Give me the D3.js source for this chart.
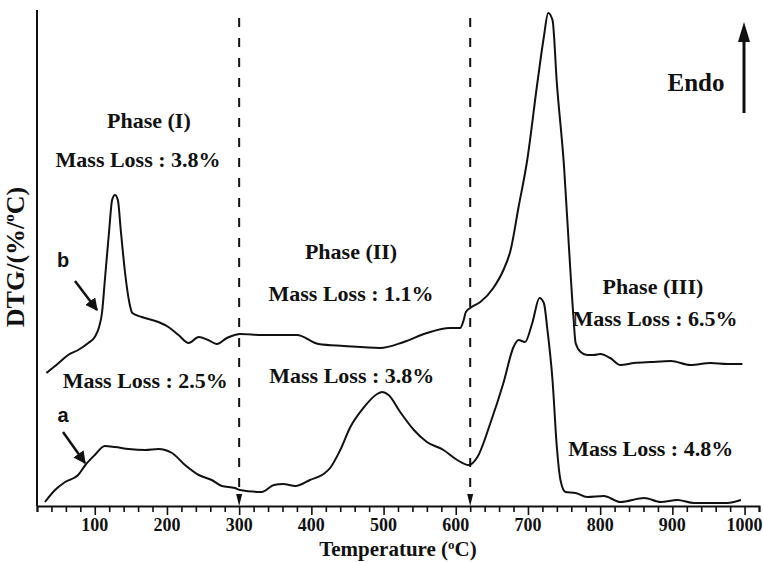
<!DOCTYPE html>
<html>
<head>
<meta charset="utf-8">
<script src="https://cdn.jsdelivr.net/npm/d3@7"></script>
<style>
  body { margin: 0; background: #fff; }
  svg { display: block; }
  .serif { font-family: "Liberation Serif", "Times New Roman", serif; font-weight: bold; fill: #111; }
  .sans { font-family: "Liberation Sans", Arial, sans-serif; font-weight: bold; fill: #111; }
</style>
</head>
<body>
<div id="chart"></div>
<script>
const width = 763;
const height = 562;

// temperatures (°C) and DTG readings (arbitrary units) for curve a (lower) and b (upper)
const tempA = [31, 45, 59, 77, 87, 100, 114, 128, 147, 170, 188, 207, 225, 244, 262, 276, 294, 301, 331, 348, 361, 378, 398, 417, 426, 440, 454, 472, 491, 498, 507, 523, 542, 560, 583, 602, 618, 630, 648, 666, 680, 687, 696, 706, 716, 722, 727, 734, 740, 745, 752, 766, 782, 805, 828, 861, 884, 907, 930, 953, 976, 995];
const dtgA = [4, 16, 24, 31, 41, 51, 60, 59, 57, 56, 57, 53, 41, 31, 26, 20, 18, 16, 14, 21, 22, 20, 26, 32, 38, 56, 79, 98, 112, 114, 111, 94, 76, 64, 56, 46, 41, 49, 83, 123, 159, 166, 164, 183, 208, 203, 176, 126, 59, 26, 14, 13, 9, 10, 4, 8, 4, 6, 3, 3, 3, 6];

const tempB = [33, 50, 63, 77, 91, 100, 106, 110, 114, 120, 124, 128, 132, 136, 142, 148, 152, 165, 188, 202, 216, 230, 244, 257, 269, 283, 294, 301, 333, 380, 410, 445, 495, 528, 560, 592, 606, 611, 614, 622, 634, 652, 666, 676, 687, 699, 713, 722, 728, 734, 740, 750, 757, 763, 766, 773, 782, 791, 800, 814, 828, 847, 870, 898, 925, 953, 976, 997];
const dtgB = [133, 143, 151, 156, 163, 169, 179, 193, 226, 276, 306, 311, 306, 276, 233, 203, 193, 189, 184, 179, 171, 163, 169, 166, 162, 168, 171, 172, 171, 171, 162, 160, 158, 164, 173, 178, 178, 186, 194, 199, 204, 218, 236, 256, 299, 346, 423, 469, 493, 486, 423, 339, 256, 189, 163, 154, 151, 151, 152, 148, 141, 143, 144, 145, 141, 143, 142, 142];

const phaseBounds = [300, 620];
const tickLabels = [100, 200, 300, 400, 500, 600, 700, 800, 900, 1000];

const annotations = [
  { text: "Phase (I)", t: 175, v: 378 },
  { text: "Mass Loss : 3.8%", t: 160, v: 339 },
  { text: "Mass Loss : 2.5%", t: 170, v: 118 },
  { text: "Phase (II)", t: 455, v: 247 },
  { text: "Mass Loss : 1.1%", t: 455, v: 205 },
  { text: "Mass Loss : 3.8%", t: 456, v: 123 },
  { text: "Phase (III)", t: 873, v: 212 },
  { text: "Mass Loss : 6.5%", t: 876, v: 180 },
  { text: "Mass Loss : 4.8%", t: 870, v: 50 },
];

const svg = d3
  .select("#chart")
  .append("svg")
  .attr("width", width)
  .attr("height", height);

const x = d3.scaleLinear().domain([20, 1020]).range([37, 759]);
const y = d3.scaleLinear().domain([0, 496]).range([506, 10]);

const defs = svg.append("defs");
defs
  .append("marker")
  .attr("id", "head")
  .attr("viewBox", "0 0 10 10")
  .attr("refX", 9)
  .attr("refY", 5)
  .attr("markerWidth", 5)
  .attr("markerHeight", 5)
  .attr("markerUnits", "strokeWidth")
  .attr("orient", "auto")
  .append("path")
  .attr("d", "M0,0 L10,5 L0,10 Z")
  .attr("fill", "#111");

// x axis: ticks every 20, long ones every 100
const xAxis = d3
  .axisBottom(x)
  .tickValues(d3.range(20, 1021, 20))
  .tickSize(6)
  .tickFormat("");
const gx = svg
  .append("g")
  .attr("transform", `translate(0,${y(0)})`)
  .call(xAxis);
gx.select(".domain").attr("stroke-width", 2).attr("stroke", "#111");
gx.selectAll(".tick line")
  .attr("stroke", "#111")
  .attr("stroke-width", 1.6)
  .attr("y2", (d) => (d % 100 === 0 ? 9 : 6));

svg
  .append("g")
  .selectAll("text")
  .data(tickLabels)
  .join("text")
  .attr("class", "serif")
  .attr("x", (d) => x(d))
  .attr("y", 531)
  .attr("text-anchor", "middle")
  .attr("font-size", 18)
  .text((d) => d);

// y axis line only
svg
  .append("line")
  .attr("x1", x(20))
  .attr("x2", x(20))
  .attr("y1", y(496))
  .attr("y2", y(0))
  .attr("stroke", "#111")
  .attr("stroke-width", 2);

// axis titles
const xt = svg
  .append("text")
  .attr("class", "serif")
  .attr("x", 398)
  .attr("y", 556)
  .attr("text-anchor", "middle")
  .attr("font-size", 21);
xt.append("tspan").text("Temperature (");
xt.append("tspan").attr("font-size", 13).attr("dy", -7).text("o");
xt.append("tspan").attr("dy", 7).text("C)");

const yt = svg
  .append("text")
  .attr("class", "serif")
  .attr("transform", "translate(24,257) rotate(-90)")
  .attr("text-anchor", "middle")
  .attr("font-size", 26);
yt.append("tspan").text("DTG/(%/");
yt.append("tspan").attr("font-size", 15).attr("dy", -10).text("o");
yt.append("tspan").attr("dy", 10).text("C)");

// phase boundaries
const bounds = svg.append("g").selectAll("g").data(phaseBounds).join("g");
bounds
  .append("line")
  .attr("x1", (d) => x(d))
  .attr("x2", (d) => x(d))
  .attr("y1", 18)
  .attr("y2", y(0) - 10)
  .attr("stroke", "#111")
  .attr("stroke-width", 2)
  .attr("stroke-dasharray", "9,11");
bounds
  .append("path")
  .attr("d", (d) => `M${x(d) - 3},${y(0) - 12} L${x(d) + 3},${y(0) - 12} L${x(d)},${y(0)} Z`)
  .attr("fill", "#111");

// curves
const line = d3.line().curve(d3.curveMonotoneX).x((d) => x(d[0])).y((d) => y(d[1]));
const series = [d3.zip(tempA, dtgA), d3.zip(tempB, dtgB)];
svg
  .append("g")
  .selectAll("path")
  .data(series)
  .join("path")
  .attr("d", line)
  .attr("fill", "none")
  .attr("stroke", "#111")
  .attr("stroke-width", 2)
  .attr("stroke-linejoin", "round");

// phase texts
svg
  .append("g")
  .selectAll("text")
  .data(annotations)
  .join("text")
  .attr("class", "serif")
  .attr("x", (d) => x(d.t))
  .attr("y", (d) => y(d.v))
  .attr("text-anchor", "middle")
  .attr("font-size", 22)
  .text((d) => d.text);

// curve labels with arrows
svg.append("text").attr("class", "sans").attr("x", 63).attr("y", 267)
  .attr("text-anchor", "middle").attr("font-size", 20).text("b");
svg.append("text").attr("class", "sans").attr("x", 63).attr("y", 422)
  .attr("text-anchor", "middle").attr("font-size", 20).text("a");

const pointers = [
  [75, 281, 97, 310],
  [63, 432, 85, 463],
];
svg
  .append("g")
  .selectAll("line")
  .data(pointers)
  .join("line")
  .attr("x1", (d) => d[0])
  .attr("y1", (d) => d[1])
  .attr("x2", (d) => d[2])
  .attr("y2", (d) => d[3])
  .attr("stroke", "#111")
  .attr("stroke-width", 2.5)
  .attr("marker-end", "url(#head)");

// Endo arrow
svg.append("text").attr("class", "serif").attr("x", 696).attr("y", 91)
  .attr("text-anchor", "middle").attr("font-size", 25).text("Endo");
svg.append("line")
  .attr("x1", 744).attr("x2", 744).attr("y1", 113).attr("y2", 38)
  .attr("stroke", "#111").attr("stroke-width", 3);
svg.append("path")
  .attr("d", "M738,42 L750,42 L744,22 Z")
  .attr("fill", "#111");
</script>
</body>
</html>
